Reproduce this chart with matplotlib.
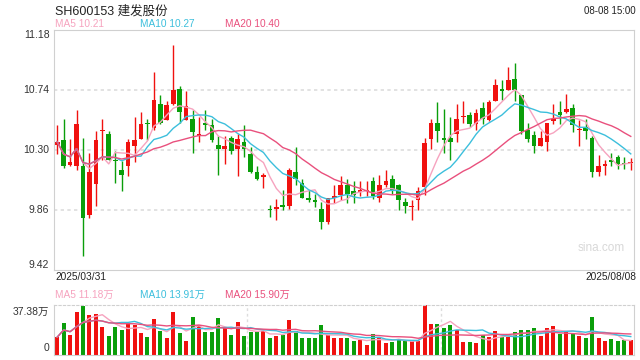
import numpy as np
import pandas as pd
import matplotlib
matplotlib.use("Agg")
import matplotlib.pyplot as plt
from matplotlib.transforms import blended_transform_factory

plt.rcParams['font.family'] = ['Liberation Sans', 'Noto Sans CJK SC', 'DejaVu Sans']

# 日K数据 2025/03/31 - 2025/08/08
opens = [10.34, 10.37, 10.19, 10.18, 10.18, 9.82, 10.05, 10.44, 10.42, 10.23,
         10.15, 10.18, 10.33, 10.38, 10.50, 10.46, 10.64, 10.52, 10.64, 10.75,
         10.52, 10.53, 10.40, 10.50, 10.48, 10.34, 10.31, 10.39, 10.31, 10.36,
         10.27, 10.14, 10.10, 9.87, 9.87, 9.90, 9.89, 10.14, 10.06, 9.95,
         9.93, 9.87, 9.77, 9.95, 9.97, 10.04, 10.00, 9.99, 10.00, 10.07,
         9.95, 10.04, 10.09, 10.04, 9.92, 9.88, 9.93, 10.03, 10.38, 10.50,
         10.39, 10.39, 10.42, 10.54, 10.56, 10.49, 10.61, 10.52, 10.66, 10.745,
         10.74, 10.82, 10.70, 10.45, 10.41, 10.33, 10.36, 10.51, 10.58, 10.58,
         10.61, 10.45, 10.47, 10.39, 10.14, 10.18, 10.23, 10.25, 10.205, 10.205]
highs = [10.48, 10.53, 10.38, 10.59, 10.39, 10.28, 10.44, 10.53, 10.44, 10.29,
         10.22, 10.38, 10.54, 10.58, 10.53, 10.87, 10.70, 10.66, 11.07, 10.77,
         10.73, 10.59, 10.54, 10.59, 10.53, 10.40, 10.40, 10.40, 10.42, 10.48,
         10.32, 10.18, 10.13, 9.90, 9.94, 10.01, 10.17, 10.32, 10.09, 10.01,
         9.98, 9.92, 9.95, 10.04, 10.11, 10.09, 10.07, 10.07, 10.07, 10.10,
         10.12, 10.15, 10.12, 10.05, 9.95, 9.93, 10.03, 10.39, 10.53, 10.65,
         10.60, 10.54, 10.64, 10.66, 10.58, 10.60, 10.65, 10.67, 10.82, 10.81,
         10.91, 10.94, 10.70, 10.50, 10.44, 10.44, 10.50, 10.64, 10.66, 10.71,
         10.64, 10.52, 10.53, 10.40, 10.26, 10.23, 10.28, 10.26, 10.25, 10.24]
lows = [10.27, 10.17, 10.18, 10.15, 9.52, 9.80, 9.89, 10.23, 10.23, 10.06,
        10.00, 10.11, 10.21, 10.38, 10.37, 10.45, 10.49, 10.52, 10.63, 10.50,
        10.52, 10.28, 10.36, 10.45, 10.36, 10.12, 10.20, 10.27, 10.11, 10.25,
        10.13, 10.08, 10.02, 9.81, 9.79, 9.86, 9.87, 10.04, 9.95, 9.92,
        9.88, 9.72, 9.76, 9.91, 9.93, 9.91, 9.91, 9.96, 9.96, 9.94,
        9.92, 10.03, 9.98, 9.86, 9.84, 9.79, 9.86, 9.97, 10.31, 10.36,
        10.28, 10.23, 10.36, 10.50, 10.47, 10.45, 10.49, 10.51, 10.66, 10.67,
        10.74, 10.66, 10.42, 10.36, 10.28, 10.33, 10.29, 10.49, 10.49, 10.57,
        10.43, 10.33, 10.38, 10.10, 10.11, 10.12, 10.18, 10.16, 10.16, 10.15]
closes = [10.36, 10.18, 10.21, 10.49, 9.80, 10.14, 10.37, 10.45, 10.23, 10.22,
          10.12, 10.36, 10.37, 10.49, 10.49, 10.67, 10.50, 10.63, 10.74, 10.58,
          10.62, 10.43, 10.42, 10.48, 10.37, 10.31, 10.33, 10.29, 10.38, 10.31,
          10.14, 10.09, 10.12, 9.86, 9.88, 9.88, 10.15, 10.09, 9.95, 9.93,
          9.92, 9.77, 9.95, 9.96, 10.04, 9.98, 9.97, 10.01, 10.005, 9.96,
          10.04, 10.07, 10.01, 9.93, 9.89, 9.89, 10.00, 10.35, 10.50, 10.44,
          10.37, 10.36, 10.53, 10.55, 10.49, 10.57, 10.53, 10.65, 10.78, 10.735,
          10.81, 10.74, 10.44, 10.38, 10.33, 10.39, 10.50, 10.53, 10.56, 10.60,
          10.48, 10.455, 10.44, 10.14, 10.18, 10.20, 10.21, 10.20, 10.20, 10.21]
# 成交量（万手）
volumes = [13.4, 24.0, 14.9, 32.3, 36.9, 29.8, 30.6, 21.0, 14.1, 21.0,
           18.9, 24.0, 22.7, 16.4, 13.4, 26.8, 17.9, 12.6, 32.3, 16.4,
           10.4, 28.5, 22.2, 17.2, 17.2, 27.8, 21.0, 14.9, 24.8, 13.9,
           17.2, 17.2, 17.7, 12.6, 14.1, 14.7, 26.0, 17.9, 12.6, 12.9,
           12.6, 22.2, 14.7, 12.4, 12.4, 12.4, 10.4, 10.9, 7.8, 15.4,
           13.4, 8.8, 9.6, 12.1, 10.4, 10.4, 10.4, 37.38, 23.0, 23.0,
           20.2, 22.2, 18.9, 9.6, 9.6, 8.8, 14.7, 13.4, 17.7, 13.4,
           13.4, 17.2, 18.9, 18.4, 20.2, 14.1, 20.2, 21.5, 15.7, 17.2,
           15.7, 14.1, 12.6, 28.5, 12.6, 10.4, 11.6, 10.4, 10.9, 10.9]

price_ticks = [11.18, 10.74, 10.30, 9.86, 9.42]

red = '#f0110f'
green = '#0a9e0a'
c_ma5 = '#f6a3bf'
c_ma10 = '#3cbfdc'
c_ma20 = '#e9507d'
grid_c = '#dddddd'

df = pd.DataFrame({'open': opens, 'high': highs, 'low': lows,
                   'close': closes, 'vol': volumes})
x = np.arange(len(df))
up = df['close'] >= df['open']
colors = np.where(up, red, green)

fig = plt.figure(figsize=(6.4, 3.6), dpi=100)
ax = fig.add_axes([54 / 640, 90 / 360, 580 / 640, 240 / 360])
axv = fig.add_axes([54 / 640, 5 / 360, 580 / 640, 50 / 360])

# K线
ax.vlines(x, df['low'], df['high'], colors=colors, linewidth=1)
body = (df['close'] - df['open']).abs().clip(lower=0.007)
bottom = df[['open', 'close']].min(axis=1)
ax.bar(x, body, bottom=bottom, width=0.72, color=colors, linewidth=0)

for n, c in [(5, c_ma5), (10, c_ma10), (20, c_ma20)]:
    ax.plot(x, df['close'].rolling(n, min_periods=1).mean(), color=c, linewidth=1)
    axv.plot(x, df['vol'].rolling(n, min_periods=1).mean(), color=c, linewidth=1)

ax.set_xlim(-0.5, len(df) - 0.5)
ax.set_ylim(9.42, 11.18)
for v in price_ticks[1:-1]:
    ax.axhline(v, color=grid_c, linestyle=(0, (2, 2)), linewidth=1.2, zorder=0)
ax.set_xticks([])
ax.set_yticks([])
for s in ax.spines.values():
    s.set_color('#d0d0d0')

tr = blended_transform_factory(ax.transAxes, ax.transData)
for i, v in enumerate(price_ticks):
    va = 'top' if i == 0 else ('bottom' if i == len(price_ticks) - 1 else 'center')
    ax.text(-0.008, v, f'{v:.2f}', transform=tr, ha='right', va=va,
            fontsize=7.5, color='#333333')

ax.text(0.985, 0.09, 'sina.com', transform=ax.transAxes, ha='right',
        va='center', fontsize=8.5, color='#d8d8d8')

# 成交量
axv.bar(x, df['vol'], width=0.62, color=colors, linewidth=0)
axv.set_xlim(-0.5, len(df) - 0.5)
axv.set_ylim(0, 37.38)
axv.set_xticks([])
axv.set_yticks([])
for s in axv.spines.values():
    s.set_color('#d0d0d0')
axv.spines['top'].set_linestyle((0, (2, 2)))
for f in (1 / 3, 2 / 3):
    axv.axvline(len(df) * f - 0.5, color=grid_c, linestyle=(0, (2, 2)),
                linewidth=1, zorder=0)
axv.text(-0.008, 0.96, '37.38万', transform=axv.transAxes, ha='right',
         va='top', fontsize=7.5, color='#333333')
axv.text(-0.008, 0.04, '0', transform=axv.transAxes, ha='right',
         va='bottom', fontsize=7.5, color='#333333')

# 文字
fig.text(55 / 640, 1 - 11 / 360, 'SH600153 建发股份', fontsize=9,
         va='center', ha='left', color='#222222')
fig.text(636 / 640, 1 - 11 / 360, '08-08 15:00', fontsize=7,
         va='center', ha='right', color='#222222')
for xp, t, c in [(55, 'MA5 10.21', c_ma5), (140, 'MA10 10.27', c_ma10),
                 (225, 'MA20 10.40', c_ma20)]:
    fig.text(xp / 640, 1 - 24 / 360, t, fontsize=7.3, color=c, va='center')
fig.text(55 / 640, 1 - 277 / 360, '2025/03/31', fontsize=7.3,
         va='center', color='#222222')
fig.text(636 / 640, 1 - 277 / 360, '2025/08/08', fontsize=7.3,
         va='center', ha='right', color='#222222')
for xp, t, c in [(55, 'MA5 11.18万', c_ma5), (140, 'MA10 13.91万', c_ma10),
                 (225, 'MA20 15.90万', c_ma20)]:
    fig.text(xp / 640, 1 - 295 / 360, t, fontsize=7.3, color=c, va='center')

fig.savefig('out.png', dpi=100)
